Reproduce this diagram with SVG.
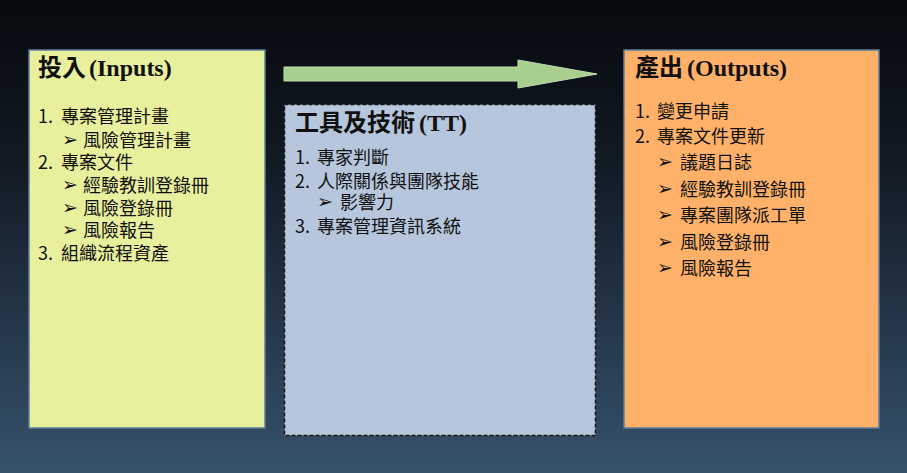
<svg xmlns="http://www.w3.org/2000/svg" width="907" height="473" viewBox="0 0 907 473">
<defs>
<linearGradient id="bg" x1="0" y1="0" x2="0" y2="1">
<stop offset="0" stop-color="#07090d"/>
<stop offset="0.35" stop-color="#121a24"/>
<stop offset="1" stop-color="#36526c"/>
</linearGradient>
<style>
.title{font-family:"Liberation Serif","Noto Sans CJK TC",serif;font-weight:bold;font-size:24px;fill:#111}
.tc{font-family:"Noto Sans CJK TC",sans-serif;font-weight:bold}
.item{font-family:"Noto Sans CJK TC","Noto Sans",sans-serif;font-size:18px;fill:#111}
.bul{font-family:"DejaVu Sans",sans-serif;font-weight:bold;font-size:19px;fill:#111}
.box{stroke:#5d7c9c;stroke-width:1.5}
</style>
</defs>
<rect x="0" y="0" width="907" height="473" fill="url(#bg)"/>
<g id="connectors">
<polygon points="284,67 518,67 518,60 597,74 518,88 518,81 284,81" fill="#a9cf8f" stroke="#c2dcb0" stroke-width="1"/>
</g>
<g id="inputs">
<rect class="box" x="29" y="50" width="236" height="378" fill="#e8f09e"/>
<text class="title" x="38" y="76"><tspan class="tc">投入</tspan><tspan x="89">(Inputs)</tspan></text>
<text class="item" y="123"><tspan x="38">1. </tspan><tspan x="61">專案管理計畫</tspan></text>
<text class="bul" x="62" y="146">➢</text><text class="item" x="83" y="147">風險管理計畫</text>
<text class="item" y="169"><tspan x="38">2. </tspan><tspan x="61">專案文件</tspan></text>
<text class="bul" x="62" y="191">➢</text><text class="item" x="83" y="192">經驗教訓登錄冊</text>
<text class="bul" x="62" y="214">➢</text><text class="item" x="83" y="215">風險登錄冊</text>
<text class="bul" x="62" y="236">➢</text><text class="item" x="83" y="237">風險報告</text>
<text class="item" y="260"><tspan x="38">3. </tspan><tspan x="61">組織流程資產</tspan></text>
</g>
<g id="tools">
<rect x="284.5" y="104.5" width="311" height="331" fill="#b6c7dd" stroke="#151515" stroke-width="1.5" stroke-dasharray="4 2"/>
<text class="title" x="295" y="131"><tspan class="tc">工具及技術</tspan><tspan x="419">(TT)</tspan></text>
<text class="item" y="164"><tspan x="295">1. </tspan><tspan x="317">專家判斷</tspan></text>
<text class="item" y="188"><tspan x="295">2. </tspan><tspan x="317">人際關係與團隊技能</tspan></text>
<text class="bul" x="317" y="208">➢</text><text class="item" x="340" y="209">影響力</text>
<text class="item" y="233"><tspan x="295">3. </tspan><tspan x="317">專案管理資訊系統</tspan></text>
</g>
<g id="outputs">
<rect class="box" x="624" y="50" width="255" height="378" fill="#ffb169"/>
<text class="title" x="635" y="76"><tspan class="tc">產出</tspan><tspan x="687">(Outputs)</tspan></text>
<text class="item" y="118"><tspan x="635">1. </tspan><tspan x="657">變更申請</tspan></text>
<text class="item" y="143"><tspan x="635">2. </tspan><tspan x="657">專案文件更新</tspan></text>
<text class="bul" x="657" y="168">➢</text><text class="item" x="680" y="169">議題日誌</text>
<text class="bul" x="657" y="195">➢</text><text class="item" x="680" y="196">經驗教訓登錄冊</text>
<text class="bul" x="657" y="221">➢</text><text class="item" x="680" y="222">專案團隊派工單</text>
<text class="bul" x="657" y="248">➢</text><text class="item" x="680" y="249">風險登錄冊</text>
<text class="bul" x="657" y="274">➢</text><text class="item" x="680" y="275">風險報告</text>
</g>
</svg>
